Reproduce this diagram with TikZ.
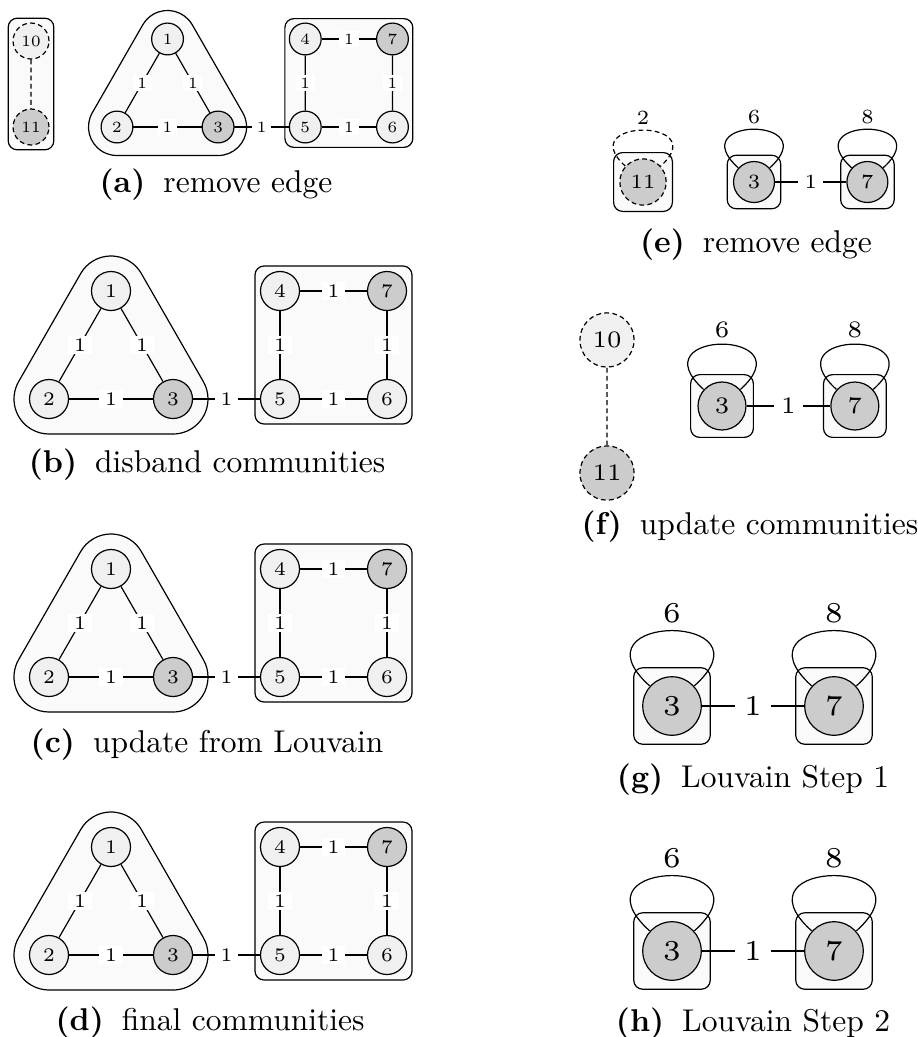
\documentclass[tikz,border=0pt]{standalone}
\usepackage{tikz}
\usetikzlibrary{calc,backgrounds}
\definecolor{vlight}{gray}{0.94}
\definecolor{vdark}{gray}{0.80}
\definecolor{commfill}{gray}{0.98}
\tikzset{
	vertex/.style={circle, draw, fill=vlight, minimum size=13pt, inner sep=0pt, font=\fontsize{6.4}{7}\selectfont},
	hubvertex/.style={vertex, fill=vdark},
	bigvertex/.style={minimum size=14.7pt},
	removed/.style={dash pattern=on 1.6pt off 1.1pt},
	weight/.style={fill=white, inner xsep=2pt, inner ysep=1pt, font=\fontsize{6.4}{7}\selectfont},
	loopweight/.style={above, inner sep=1.5pt, font=\fontsize{6.4}{7}\selectfont},
	commbox/.style={draw, fill=commfill, rounded corners=3pt},
	commhull/.style={draw, fill=commfill},
	subcap/.style={font=\fontsize{10.5}{12}\selectfont}
}
% the seven vertices with their two communities
\newcommand{\commgraph}[1]{
	\node[vertex] (#1n2) at (0,0) {2};
	\node[hubvertex] (#1n3) at (124,0) {3};
	\node[vertex] (#1n1) at (62,108) {1};
	\node[vertex] (#1n5) at (231,0) {5};
	\node[vertex] (#1n6) at (338,0) {6};
	\node[vertex] (#1n4) at (231,108) {4};
	\node[hubvertex] (#1n7) at (338,108) {7};
	\draw (#1n1) -- node[weight] {1} (#1n2);
	\draw (#1n1) -- node[weight] {1} (#1n3);
	\draw (#1n2) -- node[weight] {1} (#1n3);
	\draw (#1n3) -- node[weight] {1} (#1n5);
	\draw (#1n4) -- node[weight] {1} (#1n7);
	\draw (#1n4) -- node[weight] {1} (#1n5);
	\draw (#1n7) -- node[weight] {1} (#1n6);
	\draw (#1n5) -- node[weight] {1} (#1n6);
	\begin{scope}[on background layer]
		\draw[commhull] ($(#1n1)+(150:35)$) -- ($(#1n2)+(150:35)$) arc[start angle=150,end angle=270,radius=35]
			-- ($(#1n3)+(270:35)$) arc[start angle=270,end angle=390,radius=35]
			-- ($(#1n1)+(30:35)$) arc[start angle=30,end angle=150,radius=35] -- cycle;
		\draw[commbox] ($(#1n4)+(-25,25)$) rectangle ($(#1n6)+(25,-25)$);
	\end{scope}
}
% the two merged vertices with their self loops
\newcommand{\pairgraph}[1]{
	\node[hubvertex] (#1a) at (0,0) {3};
	\node[hubvertex] (#1b) at (108,0) {7};
	\draw (#1a) -- node[weight] {1} (#1b);
	\draw (#1a.138) to[out=138,in=42,looseness=6.3] node[loopweight] {6} (#1a.42);
	\draw (#1b.138) to[out=138,in=42,looseness=6.3] node[loopweight] {8} (#1b.42);
	\begin{scope}[on background layer]
		\draw[commbox] ($(#1a)+(-25.5,-25.5)$) rectangle ($(#1a)+(25.5,25.5)$);
		\draw[commbox] ($(#1b)+(-25.5,-25.5)$) rectangle ($(#1b)+(25.5,25.5)$);
	\end{scope}
}

\begin{document}
\begin{tikzpicture}[x=0.3333pt,y=0.3333pt]
	\useasboundingbox (0,0) rectangle (918,-1037);

	% (a)
	\begin{scope}[shift={(117,-127)}, scale=0.815, transform shape]
		\commgraph{a}
		\node[vertex, removed, bigvertex] (a10) at (-105.5,105.5) {10};
		\node[hubvertex, removed, bigvertex] (a11) at (-105.5,0) {11};
		\draw[removed] (a10) -- (a11);
		\begin{scope}[on background layer]
			\draw[commbox] ($(a10)+(-28,28)$) rectangle ($(a11)+(28,-28)$);
		\end{scope}
	\end{scope}
	\node[subcap] (capa) at (216,-185) {\textbf{(a)}\hspace{6pt}remove edge};

	% (b), (c), (d)
	\begin{scope}[shift={(49,-399)}]
		\commgraph{b}
	\end{scope}
	\node[subcap] (capb) at (207,-465) {\textbf{(b)}\hspace{6pt}disband communities};
	\begin{scope}[shift={(49,-677)}]
		\commgraph{c}
	\end{scope}
	\node[subcap] (capc) at (207,-745) {\textbf{(c)}\hspace{6pt}update from Louvain};
	\begin{scope}[shift={(49,-955)}]
		\commgraph{d}
	\end{scope}
	\node[subcap] (capd) at (210,-1023) {\textbf{(d)}\hspace{6pt}final communities};

	% (e)
	\begin{scope}[shift={(754,-182)}, scale=1.05, transform shape]
		\pairgraph{e}
		\node[hubvertex, removed, bigvertex] (e11) at (-105.7,0) {11};
		\draw[removed] (e11.138) to[out=138,in=42,looseness=5.2] node[loopweight] {2} (e11.42);
		\begin{scope}[on background layer]
			\draw[commbox] ($(e11)+(-28,-28)$) rectangle ($(e11)+(28,28)$);
		\end{scope}
	\end{scope}
	\node[subcap] (cape) at (756,-245) {\textbf{(e)}\hspace{6pt}remove edge};

	% (f)
	\begin{scope}[shift={(722,-406)}, scale=1.23, transform shape]
		\pairgraph{f}
		\node[vertex, removed, bigvertex] (f10) at (-93.5,53.7) {10};
		\node[hubvertex, removed, bigvertex] (f11) at (-93.5,-54.5) {11};
		\draw[removed] (f10) -- (f11);
	\end{scope}
	\node[subcap] (capf) at (750,-527) {\textbf{(f)}\hspace{6pt}update communities};

	% (g), (h)
	\begin{scope}[shift={(672,-706)}, scale=1.5, transform shape]
		\pairgraph{g}
	\end{scope}
	\node[subcap] (capg) at (753,-780) {\textbf{(g)}\hspace{6pt}Louvain Step 1};
	\begin{scope}[shift={(672,-951)}, scale=1.5, transform shape]
		\pairgraph{h}
	\end{scope}
	\node[subcap] (caph) at (753,-1024) {\textbf{(h)}\hspace{6pt}Louvain Step 2};
\end{tikzpicture}
\end{document}
